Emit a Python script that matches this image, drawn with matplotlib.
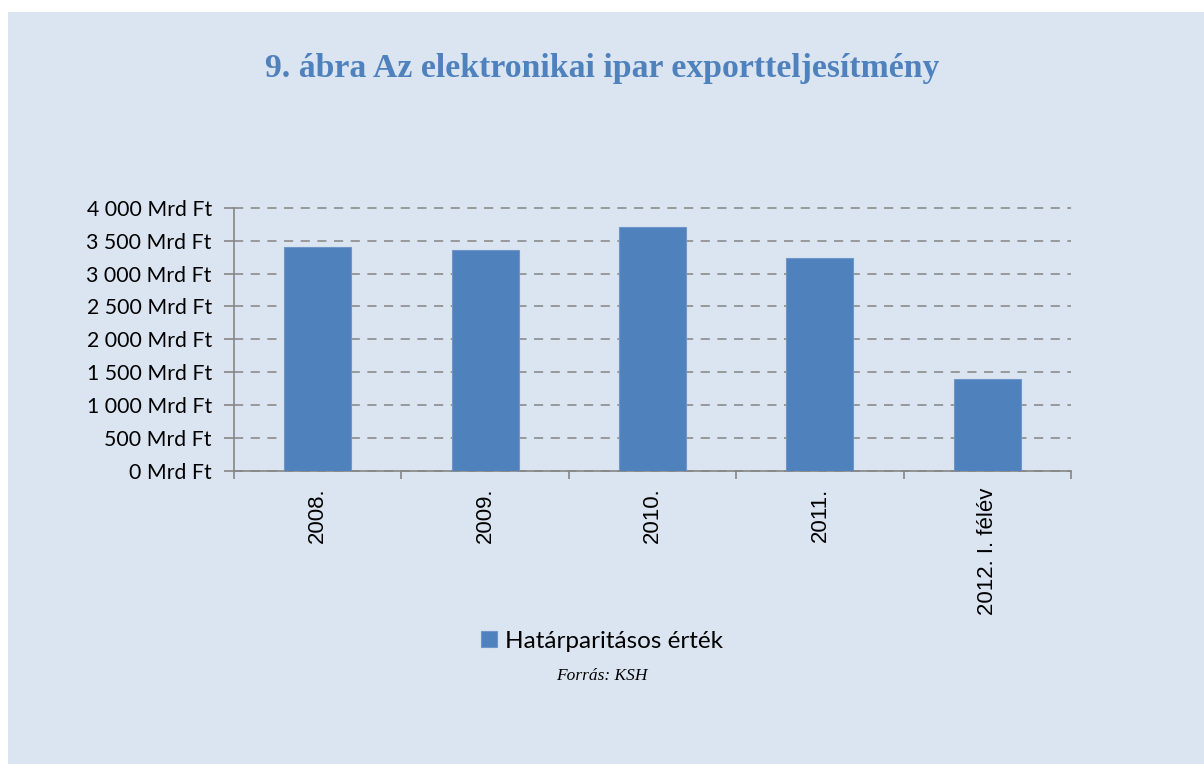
import matplotlib
matplotlib.use('Agg')
import matplotlib.pyplot as plt
from matplotlib.patches import Rectangle
from matplotlib.ticker import FuncFormatter

# Adatok (Mrd Ft)
categories = ['2008.', '2009.', '2010.', '2011.', '2012. I. félév']
values = [3400, 3350, 3700, 3230, 1395]
y_ticks = [0, 500, 1000, 1500, 2000, 2500, 3000, 3500, 4000]

bg = '#dbe5f1'
blue = '#4f81bd'

fig = plt.figure(figsize=(12.04, 7.64), dpi=100)
fig.patch.set_facecolor('white')
fig.patches.append(Rectangle((8 / 1204, 0), 1, 1 - 12 / 764, transform=fig.transFigure,
                             facecolor=bg, edgecolor='none', zorder=-10))

ax = fig.add_axes([234 / 1204, 1 - 471 / 764, (1071 - 234) / 1204, (471 - 207.7) / 764])
ax.set_facecolor('none')

x = list(range(len(categories)))
ax.bar(x, values, width=0.4, color=blue, edgecolor='#7096c9', linewidth=0.8, zorder=3,
       label='Határparitásos érték')

ax.set_xlim(-0.5, len(categories) - 0.5)
ax.set_ylim(0, 4000)
ax.set_yticks(y_ticks)
ax.yaxis.set_major_formatter(FuncFormatter(lambda v, p: f'{int(v):,} Mrd Ft'.replace(',', ' ')))
ax.grid(axis='y', linestyle=(0, (5.5, 4.5)), color='#8c8c8c', linewidth=1.2, zorder=1,
        clip_on=False)
ax.set_axisbelow(True)

# x tengely: osztásjelek a kategóriák határán
ax.set_xticks([i - 0.5 for i in range(len(categories) + 1)])
ax.set_xticklabels([])
ax.set_xticks(x, minor=True)
ax.set_xticklabels(categories, minor=True, rotation=90, fontsize=16,
                   family='Liberation Sans', va='top')
ax.tick_params(axis='x', which='minor', length=0, pad=12)
ax.tick_params(axis='x', which='major', length=6, color='#868686', width=1.2)
ax.tick_params(axis='y', length=7, color='#868686', width=1.2, labelsize=15.3, pad=9)
for lab in ax.get_yticklabels():
    lab.set_family('Lato')

for s in ['top', 'right']:
    ax.spines[s].set_visible(False)
for s in ['left', 'bottom']:
    ax.spines[s].set_color('#868686')
    ax.spines[s].set_linewidth(1.2)

fig.text(0.5, 1 - 69 / 764, '9. ábra Az elektronikai ipar exportteljesítmény',
         ha='center', va='center', fontsize=24.3, fontweight='bold', color=blue,
         family='Liberation Serif')

leg = fig.legend(loc='center', bbox_to_anchor=(0.5, 1 - 641 / 764), frameon=False,
                 prop={'family': 'Lato', 'size': 17.5}, handlelength=0.65, handleheight=0.65,
                 handletextpad=0.3)

fig.text(0.5, 1 - 676 / 764, 'Forrás: KSH', ha='center', va='center', fontsize=12.5,
         style='italic', family='Liberation Serif')

fig.savefig('out.png', dpi=100, facecolor=fig.get_facecolor())
